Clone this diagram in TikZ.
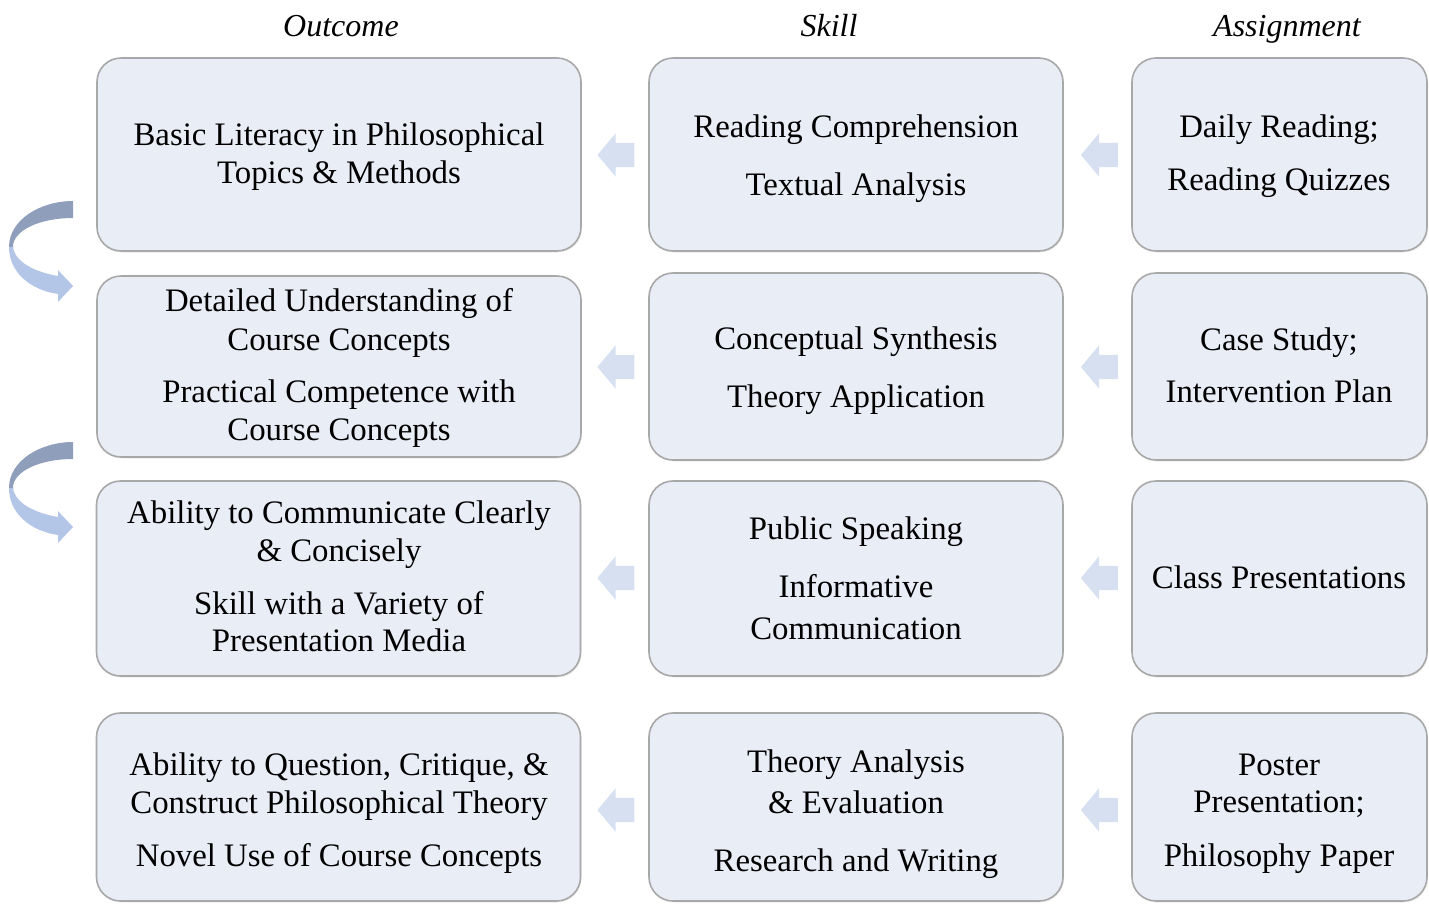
\documentclass[tikz,border=0pt]{standalone}
\usepackage{fontspec}
\setmainfont{Liberation Serif}
\usetikzlibrary{shapes.arrows,shadows}

\definecolor{boxfill}{HTML}{E9EDF6}
\definecolor{boxline}{HTML}{A8A8A8}
\definecolor{arrowfill}{HTML}{D6E0F0}
\definecolor{turndark}{HTML}{8E9EBB}
\definecolor{turnlight}{HTML}{B4C6E7}

\tikzset{
  card/.style={draw=boxline, line width=1.6pt, fill=boxfill, rounded corners=24pt,
    inner sep=0pt, drop shadow={shadow xshift=1pt, shadow yshift=-1.5pt, opacity=0.15}},
  linetext/.style={anchor=base, inner sep=0pt, font=\fontsize{32.8}{38}\selectfont},
  heading/.style={anchor=base, inner sep=0pt, font=\fontsize{32}{38}\selectfont\itshape},
  backarrow/.style={single arrow, shape border rotate=180, fill=arrowfill, draw=none,
    inner xsep=0pt, inner ysep=12pt, text height=0pt, text depth=0pt, text width=0pt,
    minimum width=43pt, minimum height=37pt, single arrow head extend=9.5pt,
    single arrow tip angle=100},
}

% one line of text centred at x, on baseline y
\newcommand{\tline}[4]{\node[linetext] (#1) at (#2,#3) {#4};}

% outline of the turning arrow on the left margin
\newcommand{\turnpath}{(73,201) .. controls (40,201) and (9,220) .. (9,247)
  .. controls (9,272) and (30,290) .. (58,294)
  -- (58,302) -- (73,286) -- (58,270) -- (58,276)
  .. controls (35,272) and (14,262) .. (13,246)
  .. controls (14,230) and (40,218) .. (73,218) -- cycle}
\newcommand{\turnarrow}[1]{%
  \begin{scope}[shift={(0,#1)}]
    \begin{scope}
      \clip (0,190) rectangle (80,247);
      \fill[turndark] \turnpath;
    \end{scope}
    \begin{scope}
      \clip (0,247) rectangle (80,310);
      \fill[turnlight] \turnpath;
    \end{scope}
  \end{scope}}

\begin{document}
\begin{tikzpicture}[x=1pt, y=-1pt]
  \useasboundingbox (0,0) rectangle (1429,903);

  % column headings
  \node[heading] (hout) at (341,36) {Outcome};
  \node[heading] (hskill) at (829,36) {Skill};
  \node[heading] (hassign) at (1287,36) {Assignment};

  % boxes: outcomes, skills, assignments
  \node[card, minimum width=484pt, minimum height=193pt] (o1) at (339,154.5) {};
  \node[card, minimum width=414pt, minimum height=193pt] (s1) at (856,154.5) {};
  \node[card, minimum width=295pt, minimum height=193pt] (a1) at (1279.5,154.5) {};

  \node[card, minimum width=484pt, minimum height=181pt] (o2) at (339,366.5) {};
  \node[card, minimum width=414pt, minimum height=187pt] (s2) at (856,366.5) {};
  \node[card, minimum width=295pt, minimum height=187pt] (a2) at (1279.5,366.5) {};

  \node[card, minimum width=484pt, minimum height=195pt] (o3) at (338.5,578.5) {};
  \node[card, minimum width=414pt, minimum height=195pt] (s3) at (856,578.5) {};
  \node[card, minimum width=295pt, minimum height=195pt] (a3) at (1279.5,578.5) {};

  \node[card, minimum width=484pt, minimum height=188pt] (o4) at (338.5,807) {};
  \node[card, minimum width=414pt, minimum height=188pt] (s4) at (856,807) {};
  \node[card, minimum width=295pt, minimum height=188pt] (a4) at (1279.5,807) {};

  % block arrows between the columns
  \foreach \r/\y in {1/155,2/367,3/578,4/810}{
    \node[backarrow] (so\r) at (621,\y) {};
    \node[backarrow] (as\r) at (1104.5,\y) {};
  }

  % turning arrows between outcome rows
  \turnarrow{0}
  \turnarrow{241}

  % row 1
  \tline{o1a}{339}{145}{Basic Literacy in Philosophical}
  \tline{o1b}{339}{183}{Topics \& Methods}
  \tline{s1a}{856}{137}{Reading Comprehension}
  \tline{s1b}{856}{195}{Textual Analysis}
  \tline{a1a}{1279}{137}{Daily Reading;}
  \tline{a1b}{1279}{190}{Reading Quizzes}

  % row 2
  \tline{o2a}{339}{311}{Detailed Understanding of}
  \tline{o2b}{339}{350}{Course Concepts}
  \tline{o2c}{339}{402}{Practical Competence with}
  \tline{o2d}{339}{440}{Course Concepts}
  \tline{s2a}{856}{349}{Conceptual Synthesis}
  \tline{s2b}{856}{407}{Theory Application}
  \tline{a2a}{1279}{350}{Case Study;}
  \tline{a2b}{1279}{402}{Intervention Plan}

  % row 3
  \tline{o3a}{339}{523}{Ability to Communicate Clearly}
  \tline{o3b}{339}{561}{\& Concisely}
  \tline{o3c}{339}{614}{Skill with a Variety of}
  \tline{o3d}{339}{651}{Presentation Media}
  \tline{s3a}{856}{539}{Public Speaking}
  \tline{s3b}{856}{597}{Informative}
  \tline{s3c}{856}{639}{Communication}
  \tline{a3a}{1279}{588}{Class Presentations}

  % row 4
  \tline{o4a}{339}{775}{Ability to Question, Critique, \&}
  \tline{o4b}{339}{813}{Construct Philosophical Theory}
  \tline{o4c}{339}{866}{Novel Use of Course Concepts}
  \tline{s4a}{856}{772}{Theory Analysis}
  \tline{s4b}{856}{813}{\& Evaluation}
  \tline{s4c}{856}{871}{Research and Writing}
  \tline{a4a}{1279}{775}{Poster}
  \tline{a4b}{1279}{812}{Presentation;}
  \tline{a4c}{1279}{866}{Philosophy Paper}
\end{tikzpicture}
\end{document}
